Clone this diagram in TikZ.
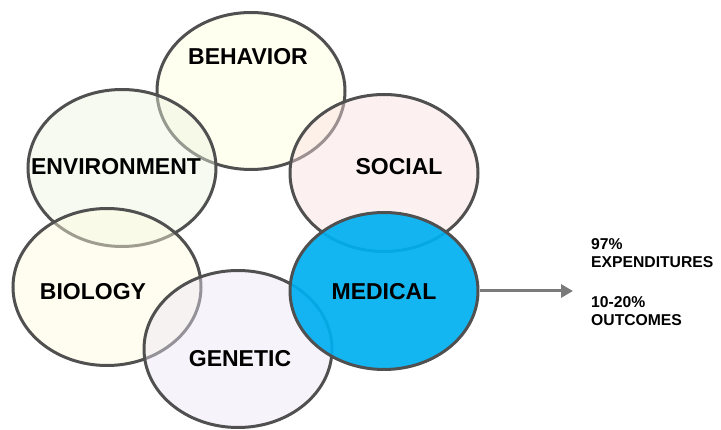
\documentclass[tikz,border=0pt]{standalone}
\usepackage{fontspec}
\setmainfont{Liberation Sans}
\usetikzlibrary{shapes.geometric,arrows.meta}

\definecolor{rim}{HTML}{505050}
\definecolor{shaft}{HTML}{7A7A7A}
\definecolor{behavfill}{HTML}{FFFFDE}
\definecolor{envfill}{HTML}{EDF4DE}
\definecolor{socfill}{HTML}{FBDEDE}
\definecolor{biofill}{HTML}{FFFBDE}
\definecolor{genfill}{HTML}{EDE4F4}
\definecolor{medfill}{HTML}{00B0F0}

\tikzstyle{blob} = [ellipse, draw=rim, line width=3pt, minimum width=188pt, minimum height=157pt, inner sep=0pt, fill opacity=0.45]
\tikzstyle{lbl} = [font=\fontsize{23}{27}\selectfont\bfseries, anchor=base, inner sep=0pt]
\tikzstyle{note} = [font=\fontsize{15.7}{18}\selectfont\bfseries, align=left, anchor=base west, inner sep=0pt]
\tikzstyle{line} = [draw=shaft, line width=3pt, -{Triangle[length=12pt,width=13pt]}]

\begin{document}
\begin{tikzpicture}[x=1pt,y=-1pt]
	\useasboundingbox (0,0) rectangle (721,430);
	
	%circles
	\node[blob, fill=behavfill] (behavior) at (251,91) {};
	\node[blob, fill=envfill] (environment) at (122,168) {};
	\node[blob, fill=socfill] (social) at (384,173) {};
	\node[blob, fill=biofill] (biology) at (107,287) {};
	\node[blob, fill=genfill] (genetic) at (238,349) {};
	\node[blob, fill=medfill, fill opacity=0.92] (medical) at (384,291) {};
	
	%labels
	\node[lbl] (behaviortxt) at (248,65) {BEHAVIOR};
	\node[lbl] (environmenttxt) at (116,175) {ENVIRONMENT};
	\node[lbl] (socialtxt) at (399,175) {SOCIAL};
	\node[lbl] (biologytxt) at (93,300) {BIOLOGY};
	\node[lbl] (genetictxt) at (240,367) {GENETIC};
	\node[lbl] (medicaltxt) at (384,300) {MEDICAL};
	
	%arrow
	\coordinate (tip) at (573,291);
	\draw[line] (medical.east) -- (tip);
	\node[note] (spend) at (591,268) {97\%\\EXPENDITURES};
	\node[note] (result) at (591,326) {10-20\%\\OUTCOMES};
\end{tikzpicture}
\end{document}
